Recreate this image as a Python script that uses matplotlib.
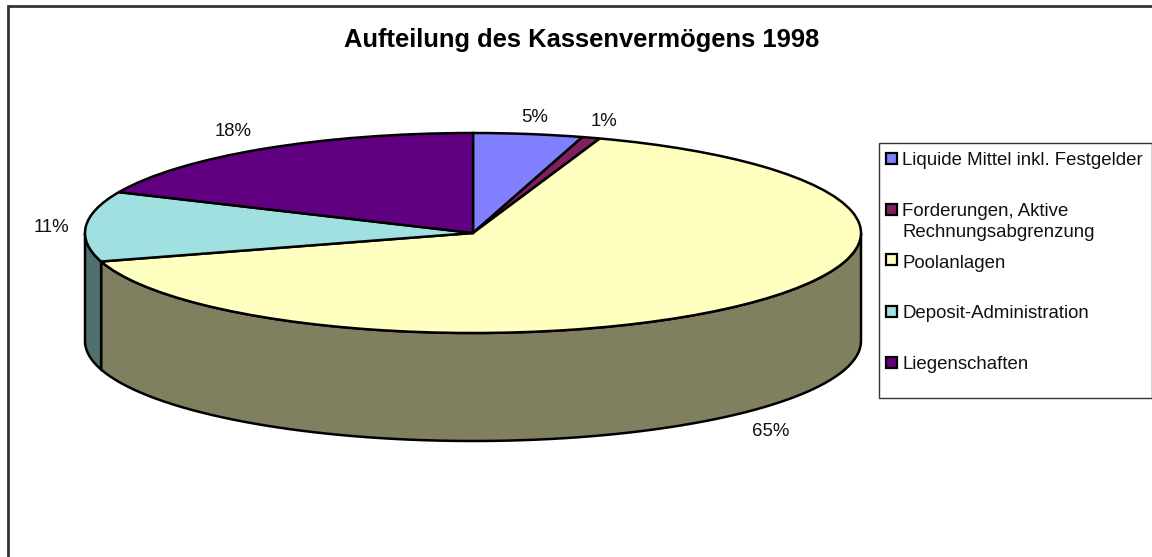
import matplotlib
matplotlib.use("Agg")
import matplotlib.pyplot as plt
from matplotlib.patches import Rectangle
import numpy as np

plt.rcParams['font.family'] = ['Liberation Sans', 'DejaVu Sans']

categories = ["Liquide Mittel inkl. Festgelder", "Forderungen, Aktive\nRechnungsabgrenzung",
              "Poolanlagen", "Deposit-Administration", "Liegenschaften"]
values = [4.55, 0.75, 65.1, 11.3, 18.3]
colors = ["#8080FF", "#802060", "#FFFFC0", "#A0E0E0", "#600080"]
side_colors = ["#404080", "#401030", "#808060", "#507070", "#300040"]

W, H = 1152, 557
fig = plt.figure(figsize=(W / 100, H / 100), dpi=100, facecolor="white")

# overlay in pixel coordinates for frame, title, legend and labels
over = fig.add_axes([0, 0, 1, 1])
over.set_xlim(0, W)
over.set_ylim(H, 0)
over.axis("off")

cx, cy, rx, ry, depth = 473, 233, 388, 100, 108
ax = fig.add_axes([(cx - rx) / W, 1 - (cy + ry) / H, 2 * rx / W, 2 * ry / H])
ax.pie(values, colors=colors, startangle=90, counterclock=False, radius=1,
       wedgeprops={"edgecolor": "black", "linewidth": 1.8, "zorder": 3})
ax.set_aspect("auto")
ax.set_xlim(-1, 1)
ax.set_ylim(-1, 1)
for w in ax.patches:
    w.set_clip_on(False)

# side wall of the front half, one piece per slice
d = depth / ry
ends = 90 - np.cumsum(values) * 3.6
starts = np.r_[90, ends[:-1]]
for s, e, c in zip(starts, ends, side_colors):
    # visible part is where the angle lies between -180 and 0
    hi = min(s, 0)
    lo = max(e, -180)
    if hi <= lo:
        continue
    t = np.radians(np.linspace(hi, lo, 80))
    xs = np.r_[np.cos(t), np.cos(t[::-1])]
    ys = np.r_[np.sin(t), np.sin(t[::-1]) - d]
    ax.fill(xs, ys, facecolor=c, edgecolor="black", linewidth=1.8, clip_on=False, zorder=2)

# frame: only left and top edges show
over.plot([8, 8, W], [H, 6, 6], color="#333333", lw=2, solid_joinstyle="miter")

over.text(582, 40, "Aufteilung des Kassenvermögens 1998", ha="center", va="center",
          fontsize=18.4, fontweight="bold", color="black")

# slice labels
pct_pos = [(535, 117), (604, 121), (771, 432), (51, 228), (233, 132)]
for v, (x, y) in zip(values, pct_pos):
    over.text(x, y, "%d%%" % round(v), ha="center", va="center", fontsize=13.4, color="#111111")

# legend
over.add_patch(Rectangle((879, 143), 272.5, 255, facecolor="white", edgecolor="#333333", lw=1))
marker_y = [158, 209, 259, 311, 362]
text_y = [152, 203, 255, 305, 356]
for name, c, my, ty in zip(categories, colors, marker_y, text_y):
    over.add_patch(Rectangle((886, my - 5), 10.5, 10.5, facecolor=c, edgecolor="black", lw=1.6))
    over.text(902, ty, name, ha="left", va="top", fontsize=13.4, color="#111111", linespacing=1.27)

fig.savefig("out.png", dpi=100)
